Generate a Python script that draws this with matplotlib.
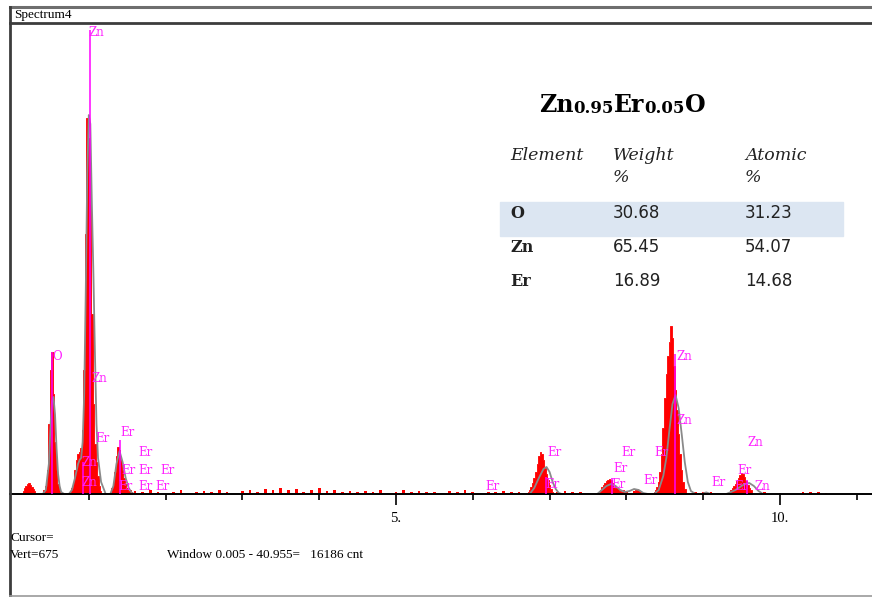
import numpy as np
import matplotlib
matplotlib.use('Agg')
import matplotlib.pyplot as plt
from matplotlib.patches import Rectangle
from matplotlib.lines import Line2D

W, H = 872, 597

# measured spectrum, counts per 0.02 keV channel, grouped by peak region
# (start energy in keV, counts)
peak_regions = [
    (0.14, [15, 30, 40, 50, 55, 45, 35, 25, 15]),
    (0.40, [10, 20, 40, 120, 350, 620, 710, 500, 260, 120, 50, 20, 10]),
    (0.76, [10, 30, 60, 120, 170, 200, 210, 230, 320, 620, 1300, 1880, 1780,
            1450, 900, 450, 250, 160, 90, 40, 15]),
    (1.28, [10, 30, 60, 110, 190, 235, 220, 170, 120, 80, 50, 30, 15, 20, 10]),
    (6.72, [10, 20, 35, 55, 80, 110, 150, 190, 210, 200, 170, 130, 100, 70,
            45, 25, 12]),
    (7.64, [10, 20, 35, 45, 55, 65, 70, 75, 70, 55, 40, 30, 35, 25, 15, 10,
            20, 10, 5, 0, 0, 0, 0, 15, 20, 25, 20, 15, 10]),
    (8.36, [10, 20, 35, 60, 110, 200, 330, 480, 600, 690, 760, 840, 780, 640,
            520, 420, 300, 200, 120, 60, 25, 10]),
    (9.34, [10, 20, 30, 40, 50, 65, 80, 95, 105, 100, 85, 65, 45, 30, 18, 10]),
]

# background counts every 0.1 keV from 1.6 keV
noise_start = 1.6
noise_counts = [15, 8, 20, 10, 5, 12, 18, 6, 10, 14,
                8, 20, 12, 6, 15, 22, 10, 25, 18, 30,
                20, 25, 12, 18, 28, 15, 22, 10, 16, 8,
                14, 10, 20, 6, 12, 18, 8, 15, 10, 12,
                6, 14, 8, 18, 10, 5, 12, 8, 15, 10,
                12, 0, 0, 0, 0, 10, 15, 8, 12, 6,
                0, 0, 0, 0, 10, 15, 0, 0, 0, 0,
                0, 0, 0, 10, 8, 12, 6, 0, 0, 0,
                0, 0, 8, 0, 6, 0, 0, 10, 8, 12,
                6, 0, 0, 0]

# fitted (gray) profile
fit_e = [0.40, 0.44, 0.48, 0.50, 0.52, 0.54, 0.56, 0.58, 0.60, 0.62, 0.64, 0.68,
         0.74, 0.78, 0.82, 0.86, 0.88, 0.90, 0.92, 0.94, 0.96, 0.98, 1.00, 1.02,
         1.04, 1.06, 1.08, 1.10, 1.12, 1.14, 1.16, 1.22,
         1.28, 1.32, 1.36, 1.40, 1.44, 1.48, 1.52, 1.56, 1.60,
         6.74, 6.80, 6.86, 6.92, 6.96, 7.00, 7.04, 7.08, 7.12, 7.16,
         7.62, 7.68, 7.74, 7.80, 7.86, 7.92, 7.98, 8.04, 8.10, 8.16, 8.22, 8.28,
         8.36, 8.42, 8.48, 8.52, 8.56, 8.60, 8.64, 8.68, 8.72, 8.76, 8.80, 8.84,
         8.90, 8.98, 9.04, 9.10,
         9.30, 9.36, 9.42, 9.48, 9.54, 9.60, 9.66, 9.72, 9.78]
fit_c = [0, 20, 150, 330, 460, 485, 400, 230, 100, 40, 10, 0,
         0, 20, 80, 150, 170, 180, 260, 500, 1000, 1600, 1895, 1850,
         1450, 1100, 700, 350, 180, 120, 60, 0,
         0, 40, 150, 215, 160, 80, 30, 5, 0,
         0, 30, 80, 125, 135, 110, 60, 25, 5, 0,
         0, 20, 40, 50, 40, 20, 10, 15, 25, 20, 5, 0,
         0, 20, 90, 180, 320, 450, 495, 430, 300, 160, 60, 15,
         0, 0, 8, 0,
         0, 10, 20, 35, 50, 55, 40, 15, 0]

# element line markers (energy keV, marker height)
marker_e = [0.525, 1.012, 0.93, 1.405, 6.95, 7.81, 8.63, 9.57]
marker_h = [710, 2320, 160, 270, 85, 80, 700, 70]

# element labels (text, energy, height)
label_txt = ['Zn', 'O', 'Zn', 'Er', 'Er', 'Er', 'Zn', 'Zn', 'Er', 'Er', 'Er',
             'Er', 'Er', 'Er', 'Er', 'Er', 'Er', 'Er', 'Er', 'Er', 'Er', 'Er',
             'Zn', 'Zn', 'Zn', 'Er', 'Er', 'Er', 'Zn']
label_e = [0.99, 0.53, 1.04, 1.09, 1.41, 1.65, 0.90, 0.91, 1.42, 1.65, 1.93,
           1.39, 1.64, 1.86, 6.16, 6.97, 6.94, 7.94, 7.83, 7.81, 8.22, 8.37,
           8.65, 8.65, 9.58, 9.11, 9.45, 9.41, 9.67]
label_c = [2310, 690, 575, 280, 310, 205, 160, 60, 120, 120, 120,
           35, 35, 35, 40, 205, 50, 205, 130, 45, 65, 205,
           685, 370, 255, 55, 120, 40, 40]

# quantification table
elements = ['O', 'Zn', 'Er']
weight_pct = ['30.68', '65.45', '16.89']
atomic_pct = ['31.23', '54.07', '14.68']
formula = [('Zn', 17), ('0.95', 12), ('Er', 17), ('0.05', 12), ('O', 17)]

SERIF = 'Liberation Serif'


def fx(x):
    return x / W


def fy(y):
    return 1 - y / H


def draw_frame(fig):
    fig.add_artist(Line2D([fx(10), 1], [fy(7), fy(7)], color='#6e6e6e', lw=2.2))
    fig.add_artist(Line2D([fx(10), 1], [fy(23), fy(23)], color='#3c3c3c', lw=2.0))
    fig.add_artist(Line2D([fx(10), fx(10)], [fy(7), 0], color='#3c3c3c', lw=2.0))
    fig.add_artist(Line2D([fx(10), 1], [fy(596), fy(596)], color='#9a9a9a', lw=1.2))
    fig.text(fx(14), fy(15), 'Spectrum4', family=SERIF, fontsize=9.5,
             va='center', ha='left')
    fig.text(fx(10), fy(538), 'Cursor=', family=SERIF, fontsize=9.5, va='center')
    fig.text(fx(10), fy(555), 'Vert=675', family=SERIF, fontsize=9.5, va='center')
    fig.text(fx(167), fy(555), 'Window 0.005 - 40.955=   16186 cnt',
             family=SERIF, fontsize=9.5, va='center')


def draw_table(fig, ax):
    fig.add_artist(Rectangle((fx(500), fy(236)), fx(343), (236 - 202) / H,
                             transform=fig.transFigure, color='#dce6f2', zorder=0))

    # formula title, pieces chained left to right on a common bottom
    prev = fig.text(fx(539), fy(117), formula[0][0], family='DejaVu Serif',
                    fontsize=formula[0][1], fontweight='bold', va='bottom')
    for s, size in formula[1:]:
        prev = ax.annotate(s, xy=(1, 0), xycoords=prev, va='bottom', ha='left',
                           family='DejaVu Serif', fontsize=size,
                           fontweight='bold', annotation_clip=False)

    hdr = dict(family='DejaVu Serif', style='italic', fontsize=12.5,
               va='center', ha='left', color='#222222')
    fig.text(fx(510), fy(155), 'Element', **hdr)
    fig.text(fx(613), fy(155), 'Weight', **hdr)
    fig.text(fx(745), fy(155), 'Atomic', **hdr)
    fig.text(fx(613), fy(178), '%', **hdr)
    fig.text(fx(745), fy(178), '%', **hdr)
    for i, el in enumerate(elements):
        y = [213, 247, 281][i]
        fig.text(fx(510), fy(y), el, family='DejaVu Serif', fontweight='bold',
                 fontsize=11.5, va='center', color='#222222')
        fig.text(fx(613), fy(y), weight_pct[i], family='DejaVu Sans',
                 fontsize=12, va='center', color='#222222')
        fig.text(fx(745), fy(y), atomic_pct[i], family='DejaVu Sans',
                 fontsize=12, va='center', color='#222222')


def main():
    fig = plt.figure(figsize=(W / 100, H / 100), dpi=100)
    ax = fig.add_axes([fx(10), fy(494), fx(862), (494 - 23) / H])

    for start, counts in peak_regions:
        e = start + 0.02 * np.arange(len(counts))
        ax.fill_between(e, counts, step='mid', color='#ff0000', linewidth=0.6,
                        zorder=1)
    ne = noise_start + 0.1 * np.arange(len(noise_counts))
    ax.bar(ne, noise_counts, width=0.035, color='#ff0000', linewidth=0, zorder=1)

    ax.plot(fit_e, fit_c, color='#8a8a8a', lw=1.3, zorder=2)
    ax.vlines(marker_e, 0, marker_h, color='#ff00ff', lw=1.1, zorder=3)

    for s, e, c in zip(label_txt, label_e, label_c):
        ax.text(e, c, s, color='#ff22ff', family='DejaVu Serif', fontsize=8.5,
                ha='left', va='center', zorder=4)

    ax.set_xlim((10 - 12) / 76.8, (872 - 12) / 76.8)
    ax.set_ylim(0, 2355)
    for side in ['top', 'right', 'left']:
        ax.spines[side].set_visible(False)
    ax.spines['bottom'].set_linewidth(1.4)
    ax.set_yticks([])
    ax.set_xticks([5, 10])
    ax.set_xticklabels(['5.', '10.'], family=SERIF, fontsize=10.5)
    ax.set_xticks([1, 2, 3, 4, 6, 7, 8, 9, 11], minor=True)
    ax.tick_params(axis='x', which='major', direction='out', length=8, width=1.2, pad=5)
    ax.tick_params(axis='x', which='minor', direction='out', length=4.5, width=1.2)
    ax.patch.set_alpha(0)

    draw_frame(fig)
    draw_table(fig, ax)

    fig.savefig('out.png', dpi=100)


if __name__ == '__main__':
    main()
